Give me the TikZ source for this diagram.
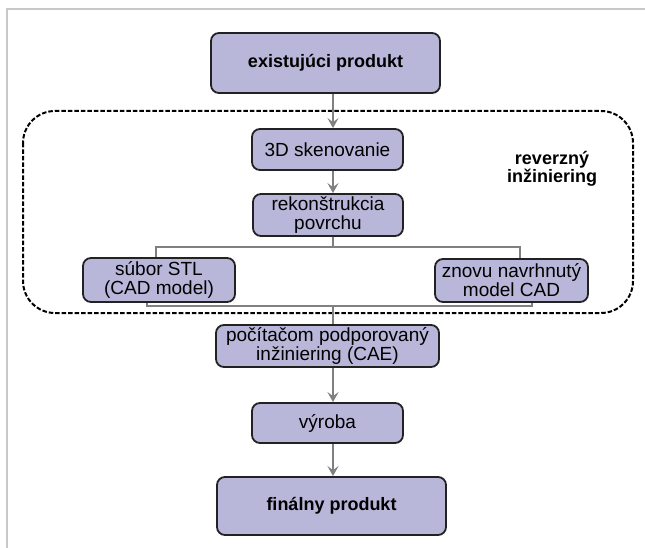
\documentclass[tikz,border=0pt]{standalone}
\usepackage{fontspec}
\setmainfont{Liberation Sans}
\usetikzlibrary{arrows.meta}
\definecolor{boxfill}{RGB}{184,183,217}
\definecolor{boxline}{RGB}{34,34,34}
\definecolor{arrgray}{RGB}{128,128,128}
\definecolor{framegray}{RGB}{200,200,200}
\begin{document}
\begin{tikzpicture}[x=1pt,y=-1pt,
  box/.style={draw=boxline, line width=1.8pt, fill=boxfill, rounded corners=8pt,
    inner sep=0pt, align=center, font=\fontsize{19}{19}\selectfont},
  boldbox/.style={box, font=\fontsize{18}{19}\selectfont\bfseries},
  arr/.style={draw=arrgray, line width=2.4pt, -{Stealth[length=10pt,width=11pt,inset=4pt]}},
  conn/.style={draw=arrgray, line width=1.8pt},
  region/.style={draw=black, line width=2pt, dash pattern=on 4.5pt off 2pt, rounded corners=32pt}]
\useasboundingbox (0,0) rectangle (645,548);
% page frame
\draw[framegray, line width=1.5pt] (645,9) -- (7,9) -- (7,548);
% reverse engineering region
\draw[region] (23,111) rectangle (633,313);
\node[font=\fontsize{18}{18.5}\selectfont\bfseries, align=center] (rev) at (552,169) {reverzný\\inžiniering};
% boxes
\node[boldbox, minimum width=229pt, minimum height=60pt] (box1) at (325.5,63) {existujúci produkt};
\node[box, minimum width=151pt, minimum height=41pt] (sk) at (327.5,149.5) {3D skenovanie};
\node[box, minimum width=150pt, minimum height=42pt] (rek) at (328,215) {rekonštrukcia\\povrchu};
\node[box, minimum width=152pt, minimum height=44pt] (stl) at (159,280) {súbor STL\\(CAD model)};
\node[box, minimum width=153pt, minimum height=43pt] (zn) at (511.5,280.5) {znovu navrhnutý\\model CAD};
\node[box, minimum width=223pt, minimum height=42pt] (cae) at (327.5,346) {počítačom podporovaný\\inžiniering (CAE)};
\node[box, minimum width=151pt, minimum height=40pt] (vyr) at (327.5,423) {výroba};
\node[boldbox, minimum width=229pt, minimum height=58pt] (fin) at (331.5,506) {finálny produkt};
% connectors
\coordinate (ax) at (333,0);
\coordinate (brL) at (156,247);
\coordinate (brR) at (520,247);
\coordinate (jL) at (147,306);
\coordinate (jR) at (532,306);
\draw[arr] (box1.south -| ax) -- (sk.north -| ax);
\draw[arr] (sk.south -| ax) -- (rek.north -| ax);
\draw[conn] (rek.south -| ax) -- (ax |- brL);
\draw[conn] (stl.north -| brL) -- (brL) -- (brR) -- (zn.north -| brR);
\draw[conn] (stl.south -| jL) -- (jL) -- (jR) -- (zn.south -| jR);
\draw[conn] (ax |- jL) -- (cae.north -| ax);
\draw[arr] (cae.south -| ax) -- (vyr.north -| ax);
\draw[arr] (vyr.south -| ax) -- (fin.north -| ax);
\end{tikzpicture}
\end{document}
